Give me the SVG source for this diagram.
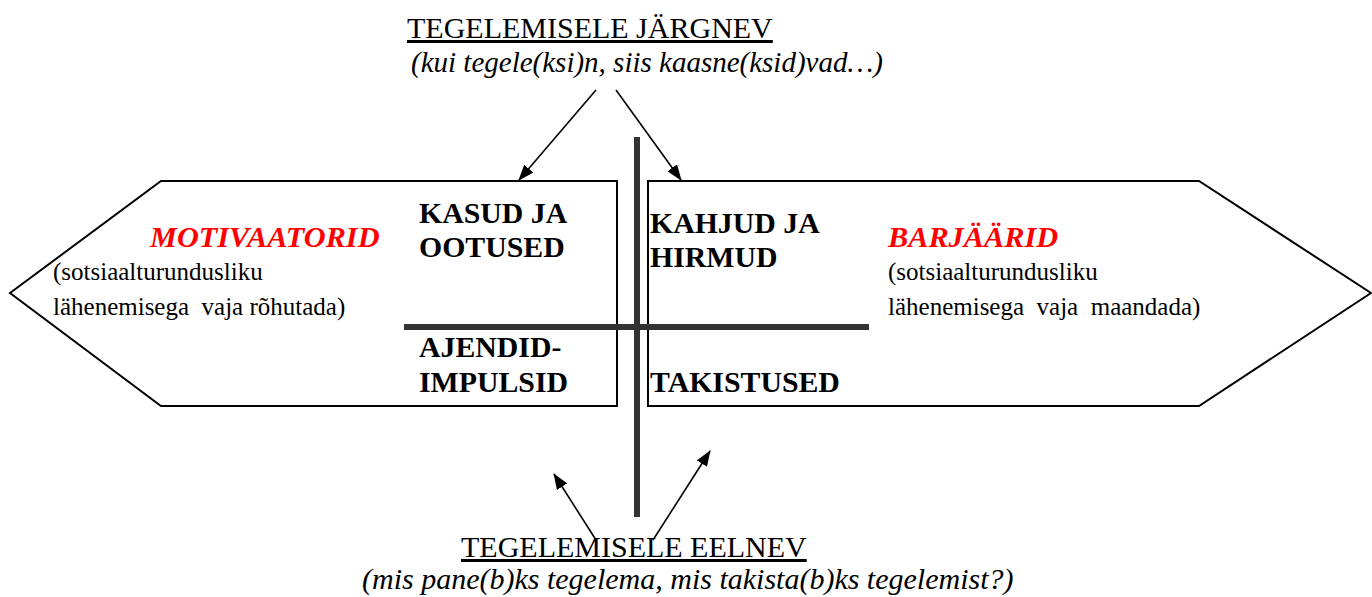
<svg xmlns="http://www.w3.org/2000/svg" width="1372" height="597" viewBox="0 0 1372 597">
<style>
.shape{fill:#fff;stroke:#000;stroke-width:2}
.bar{stroke:#333;stroke-width:6;fill:none}
.conn{stroke:#000;stroke-width:1.6;fill:none;marker-end:url(#ah)}
.t{font-family:'Liberation Serif',serif;fill:#000}
.title{font-size:30px;text-decoration:underline}
.it{font-size:29px;font-style:italic}
.it2{font-size:30px;font-style:italic}
.bold{font-size:29.8px;font-weight:bold}
.red{font-size:30.3px;font-weight:bold;font-style:italic;fill:#ff0000}
.body{font-size:25px}
</style>
<defs>
<marker id="ah" markerWidth="16" markerHeight="12" refX="15" refY="6" orient="auto" markerUnits="userSpaceOnUse">
<path d="M0,0 L16,6 L0,12 Z" fill="#000"/>
</marker>
</defs>
<g id="left-node">
<path class="shape" d="M10,293 L161,181 L617,181 L617,406 L161,406 Z"/>
<text class="t red" x="150" y="247">MOTIVAATORID</text>
<text class="t body" x="53" y="280">(sotsiaalturundusliku</text>
<text class="t body" x="53" y="315" xml:space="preserve">lähenemisega  vaja rõhutada)</text>
<text class="t bold" x="419" y="223">KASUD JA</text>
<text class="t bold" x="419" y="257">OOTUSED</text>
<text class="t bold" x="419" y="357">AJENDID-</text>
<text class="t bold" x="419" y="392">IMPULSID</text>
</g>
<g id="right-node">
<path class="shape" d="M648,181 L1199,181 L1371,293 L1199,406 L648,406 Z"/>
<text class="t red" x="888" y="247">BARJÄÄRID</text>
<text class="t body" x="888" y="280">(sotsiaalturundusliku</text>
<text class="t body" x="888" y="315" xml:space="preserve">lähenemisega  vaja  maandada)</text>
<text class="t bold" x="650" y="233">KAHJUD JA</text>
<text class="t bold" x="650" y="267">HIRMUD</text>
<text class="t bold" x="650" y="392">TAKISTUSED</text>
</g>
<g id="top-label">
<text class="t title" x="407" y="38">TEGELEMISELE JÄRGNEV</text>
<text class="t it" x="411" y="72">(kui tegele(ksi)n, siis kaasne(ksid)vad…)</text>
</g>
<g id="bottom-label">
<text class="t title" x="461" y="557">TEGELEMISELE EELNEV</text>
<text class="t it2" x="362" y="589">(mis pane(b)ks tegelema, mis takista(b)ks tegelemist?)</text>
</g>
<g id="axes">
<line class="bar" x1="637" y1="137" x2="637" y2="517"/>
<line class="bar" x1="404" y1="327" x2="869" y2="327"/>
</g>
<g id="connectors">
<line class="conn" x1="596" y1="90" x2="519" y2="180"/>
<line class="conn" x1="616" y1="90" x2="681" y2="180"/>
<line class="conn" x1="596" y1="540" x2="554" y2="474"/>
<line class="conn" x1="653" y1="540" x2="710" y2="451"/>
</g>
</svg>
